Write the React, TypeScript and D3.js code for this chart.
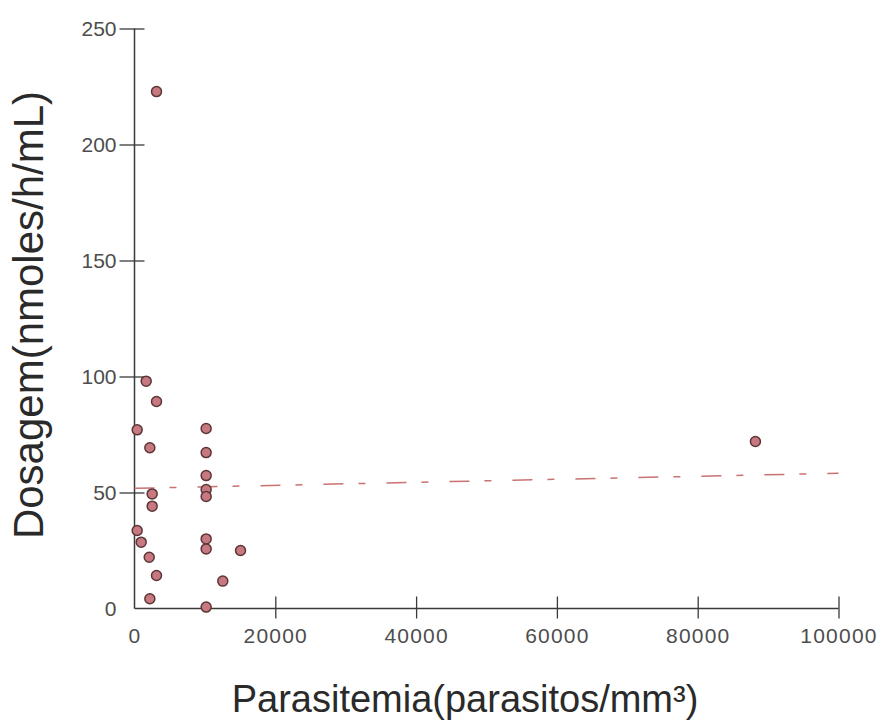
import { useRef, useEffect } from "react";
import * as d3 from "d3";

// parasitemia (parasitos/mm³) and dosagem (nmoles/h/mL)
const parasitemia = [
  1660, 3125, 380, 2180, 10180, 10180, 10180, 10180, 10180, 2510, 2510, 380,
  950, 10180, 10180, 15060, 2090, 3125, 12540, 2180, 10180, 3125, 88200,
];
const dosagem = [
  98, 89.2, 77, 69.3, 77.6, 67.2, 57.3, 51.3, 48.3, 49.4, 44.1, 33.6, 28.6, 30,
  25.7, 25, 22.1, 14.2, 11.8, 4.2, 0.6, 222.8, 72,
];
// fitted trend line (ends)
const trendX = [0, 100000];
const trendY = [51.8, 58.3];

const xTicks = [0, 20000, 40000, 60000, 80000, 100000];
const yTicks = [0, 50, 100, 150, 200, 250];

const xTitle = "Parasitemia(parasitos/mm³)";
const yTitle = "Dosagem(nmoles/h/mL)";

const App = () => {
  const svgRef = useRef<SVGSVGElement>(null);

  useEffect(() => {
    const w = 886;
    const h = 721;
    const svg = d3.select(svgRef.current).attr("width", w).attr("height", h);
    svg.selectAll("*").remove();

    const x = d3.scaleLinear().domain([0, 100000]).range([134.5, 838.5]);
    const y = d3.scaleLinear().domain([0, 250]).range([608.5, 28.5]);
    const axisColor = "#3a3a3a";
    const labelColor = "#4d4d4d";
    const tickFont = "'Liberation Sans', Arial, sans-serif";

    // y axis
    const gy = svg
      .append("g")
      .attr("transform", `translate(${x(0)},0)`)
      .call(d3.axisLeft(y).tickValues(yTicks).tickSize(15).tickPadding(3));
    gy.select(".domain").attr("stroke", axisColor).attr("stroke-width", 1.5).attr("d", `M0,${y(0)}V${y(250)}`);
    gy.selectAll(".tick line").attr("stroke", axisColor).attr("stroke-width", 1.3).attr("x1", 10);
    gy.selectAll(".tick text")
      .attr("fill", labelColor)
      .style("font-family", tickFont)
      .style("font-size", "21px");

    // x axis
    const gx = svg
      .append("g")
      .attr("transform", `translate(0,${y(0)})`)
      .call(
        d3
          .axisBottom(x)
          .tickValues(xTicks)
          .tickFormat(d3.format("d"))
          .tickSize(10)
          .tickPadding(10)
      );
    gx.select(".domain").attr("stroke", axisColor).attr("stroke-width", 1.5).attr("d", `M${x(0)},0H${x(100000)}`);
    gx.selectAll(".tick line").attr("stroke", axisColor).attr("stroke-width", 1.3).attr("y1", -12);
    gx.selectAll(".tick text")
      .attr("fill", labelColor)
      .style("font-family", tickFont)
      .style("font-size", "21px")
      .style("letter-spacing", "1.2px");
    svg.selectAll(".tick").filter((d) => d === 0).select("line").remove();

    // trend line
    const line = d3
      .line<number>()
      .x((d) => x(d))
      .y((d, i) => y(trendY[i]));
    svg
      .append("path")
      .datum(trendX)
      .attr("d", line)
      .attr("fill", "none")
      .attr("stroke", "#c97272")
      .attr("stroke-width", 1.5)
      .attr("stroke-dasharray", "20,15,7,21");

    // points
    svg
      .append("g")
      .selectAll("circle")
      .data(parasitemia)
      .join("circle")
      .attr("cx", (d) => x(d))
      .attr("cy", (d, i) => y(dosagem[i]))
      .attr("r", 5)
      .attr("fill", "#c8787f")
      .attr("stroke", "#5a3638")
      .attr("stroke-width", 1.5);

    // titles
    svg
      .append("text")
      .attr("x", 465)
      .attr("y", 712)
      .attr("text-anchor", "middle")
      .attr("fill", "#2a2a2a")
      .style("font-family", "'Liberation Sans', Arial, sans-serif")
      .style("font-size", "38px")
      .text(xTitle);
    svg
      .append("text")
      .attr("transform", "translate(43,315) rotate(-90)")
      .attr("text-anchor", "middle")
      .attr("fill", "#2a2a2a")
      .style("font-family", "'Liberation Sans', Arial, sans-serif")
      .style("font-size", "42px")
      .text(yTitle);
  }, []);

  return (
    <svg
      ref={svgRef}
      style={{ position: "absolute", left: 0, top: 0, background: "#fff" }}
    ></svg>
  );
};

export default App;
